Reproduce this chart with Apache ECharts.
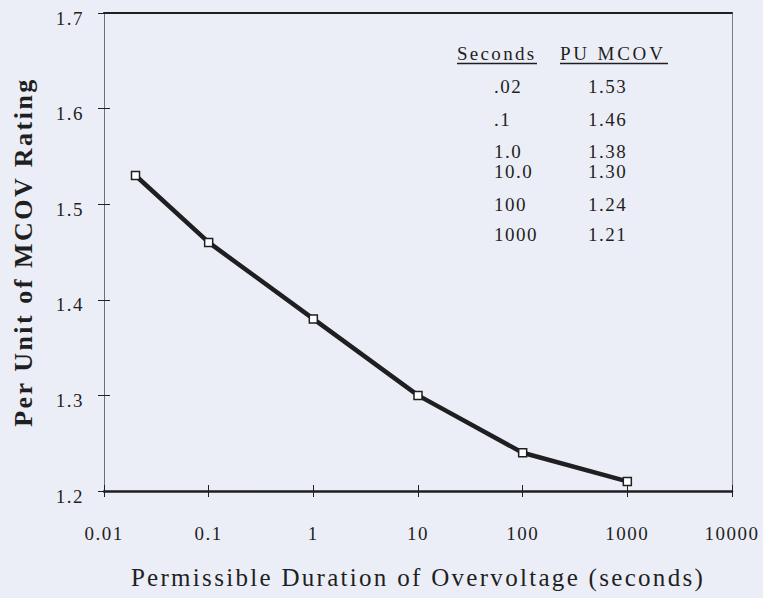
<!DOCTYPE html>
<html>
<head>
<meta charset="utf-8">
<script src="https://cdn.jsdelivr.net/npm/echarts@6/dist/echarts.min.js"></script>
<style>
  html, body { margin: 0; padding: 0; background: #eceef7; }
  #chart { width: 763px; height: 598px; }
</style>
</head>
<body>
<div id="chart"></div>
<script>
// Permissible overvoltage duration (s) and per-unit MCOV capability
const durations = [0.02, 0.1, 1, 10, 100, 1000];
const puMcov = [1.53, 1.46, 1.38, 1.30, 1.24, 1.21];

// Inset table text
const tableHeaders = ['Seconds', 'PU MCOV'];
const secondsText = ['.02', '.1', '1.0', '10.0', '100', '1000'];
const puText = ['1.53', '1.46', '1.38', '1.30', '1.24', '1.21'];

// Axis ranges / titles
const xRange = [0.01, 10000];
const yRange = [1.2, 1.7];
const yStep = 0.1;
const xTitle = 'Permissible Duration of Overvoltage (seconds)';
const yTitle = 'Per Unit of MCOV Rating';

const ink = '#1f1f22';
const serif = '"Liberation Serif", "Times New Roman", serif';

const chart = echarts.init(document.getElementById('chart'), null, { renderer: 'svg' });

const grid = { left: 104, right: 31, top: 13, bottom: 107 };

// Table rows (vertical centres in px)
const rowY = [86, 119, 151, 171, 204, 234];
const tableGraphics = [];
tableGraphics.push({
  type: 'text', left: 457, top: 44, z: 10,
  style: { text: tableHeaders[0], font: '19px ' + serif, fill: ink }
});
tableGraphics.push({
  type: 'text', left: 560, top: 44, z: 10,
  style: { text: tableHeaders[1], font: '19px ' + serif, fill: ink }
});
tableGraphics.push({
  type: 'line', z: 10,
  shape: { x1: 457, y1: 63.5, x2: 537, y2: 63.5 },
  style: { stroke: ink, lineWidth: 1.5 }
});
tableGraphics.push({
  type: 'line', z: 10,
  shape: { x1: 560, y1: 63.5, x2: 668, y2: 63.5 },
  style: { stroke: ink, lineWidth: 1.5 }
});
secondsText.forEach(function (s, i) {
  tableGraphics.push({
    type: 'text', x: 494, y: rowY[i], z: 10,
    style: { text: s, font: '19px ' + serif, fill: ink, textVerticalAlign: 'middle', verticalAlign: 'middle' }
  });
  tableGraphics.push({
    type: 'text', x: 588, y: rowY[i], z: 10,
    style: { text: puText[i], font: '19px ' + serif, fill: ink, textVerticalAlign: 'middle', verticalAlign: 'middle' }
  });
});

const tickLabelStyle = {
  color: ink, fontFamily: serif, fontSize: 19
};

// Plain decimal labels for the decades (no thousands separators)
function decadeLabel(v) {
  return String(Number(Number(v).toPrecision(6)));
}

chart.setOption({
  animation: false,
  backgroundColor: '#eceef7',
  grid: grid,
  xAxis: [
    {
      type: 'log', logBase: 10, min: xRange[0], max: xRange[1],
      position: 'bottom',
      name: xTitle, nameLocation: 'middle', nameGap: 74,
      nameTextStyle: { color: ink, fontFamily: serif, fontSize: 25 },
      axisLine: { show: true, lineStyle: { color: ink, width: 2.5 } },
      axisTick: { show: true, inside: false, length: 6, lineStyle: { color: ink, width: 1 } },
      axisLabel: Object.assign({ margin: 33, formatter: decadeLabel }, tickLabelStyle),
      splitLine: { show: false },
      minorTick: { show: false }
    },
    {
      type: 'log', logBase: 10, min: xRange[0], max: xRange[1],
      position: 'bottom', gridIndex: 0,
      axisLine: { show: false },
      axisTick: { show: true, inside: true, length: 6, lineStyle: { color: ink, width: 1 } },
      axisLabel: { show: false },
      splitLine: { show: false }
    },
    {
      type: 'log', logBase: 10, min: xRange[0], max: xRange[1],
      position: 'top',
      axisLine: { show: true, lineStyle: { color: ink, width: 2 } },
      axisTick: { show: false },
      axisLabel: { show: false },
      splitLine: { show: false }
    }
  ],
  yAxis: [
    {
      type: 'value', min: yRange[0], max: yRange[1], interval: yStep,
      position: 'left',
      name: yTitle, nameLocation: 'middle', nameGap: 68, nameRotate: 90,
      nameTextStyle: { color: ink, fontFamily: serif, fontSize: 26, fontWeight: 'bold' },
      axisLine: { show: true, lineStyle: { color: '#6d6e78', width: 1 } },
      axisTick: { show: true, inside: false, length: 6, lineStyle: { color: ink, width: 1 } },
      axisLabel: Object.assign({
        margin: 20, verticalAlign: 'top', lineHeight: 10,
        formatter: function (v) { return v.toFixed(1); }
      }, tickLabelStyle),
      splitLine: { show: false }
    },
    {
      type: 'value', min: yRange[0], max: yRange[1], interval: yStep,
      position: 'left',
      axisLine: { show: false },
      axisTick: { show: true, inside: true, length: 6, lineStyle: { color: ink, width: 1 } },
      axisLabel: { show: false },
      splitLine: { show: false }
    },
    {
      type: 'value', min: yRange[0], max: yRange[1], interval: yStep,
      position: 'right',
      axisLine: { show: true, lineStyle: { color: '#7a7b85', width: 1 } },
      axisTick: { show: false },
      axisLabel: { show: false },
      splitLine: { show: false }
    }
  ],
  series: [{
    type: 'line',
    xAxisIndex: 0, yAxisIndex: 0,
    data: durations.map(function (d, i) { return [d, puMcov[i]]; }),
    lineStyle: { color: ink, width: 4.5 },
    symbol: 'rect', symbolSize: 8,
    itemStyle: { color: '#ffffff', borderColor: ink, borderWidth: 1.5 },
    z: 5
  }],
  graphic: tableGraphics
});

// Wide letter spacing of the typeset labels
function spaceText() {
  const spacing = {};
  spacing[xTitle] = '2.3px';
  spacing[yTitle] = '2.5px';
  spacing[tableHeaders[0]] = '2.3px';
  spacing[tableHeaders[1]] = '2.8px';
  document.querySelectorAll('#chart text').forEach(function (t) {
    const s = t.textContent;
    if (spacing[s]) t.style.letterSpacing = spacing[s];
    else if (/^[\d.]+$/.test(s)) t.style.letterSpacing = '1.5px';
  });
}
chart.on('finished', spaceText);
setTimeout(spaceText, 0);
setTimeout(spaceText, 100);
</script>
</body>
</html>
